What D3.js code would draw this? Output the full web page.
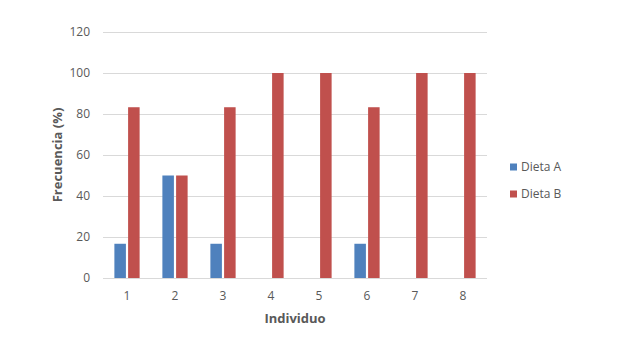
<!DOCTYPE html>
<html>
<head>
<meta charset="utf-8">
<script src="https://cdn.jsdelivr.net/npm/d3@7"></script>
<style>
  body { margin: 0; background: #fff; }
  text { font-family: "Open Sans", "Liberation Sans", sans-serif; }
</style>
</head>
<body>
<div id="chart"></div>
<script>
var individuos = ["1", "2", "3", "4", "5", "6", "7", "8"];
var series = ["Dieta A", "Dieta B"];
var dietaA = [16.7, 50, 16.7, 0, 0, 16.7, 0, 0];
var dietaB = [83.3, 50, 83.3, 100, 100, 83.3, 100, 100];
var yTicks = [0, 20, 40, 60, 80, 100, 120];
var colors = ["#4F81BD", "#C0504D"];

var width = 639, height = 339;
var margin = {left: 103, right: 152, top: 32, bottom: 61};

var svg = d3.select("#chart").append("svg")
    .attr("width", width)
    .attr("height", height);

var x = d3.scaleBand()
    .domain(individuos)
    .range([margin.left, width - margin.right]);

var xs = d3.scaleBand()
    .domain(series)
    .range([0, x.bandwidth()])
    .paddingInner(0.16)
    .paddingOuter(0.83);

var y = d3.scaleLinear()
    .domain([0, 120])
    .range([height - margin.bottom, margin.top]);

// gridlines
svg.append("g")
  .selectAll("line")
  .data(yTicks)
  .enter().append("line")
    .attr("x1", margin.left)
    .attr("x2", width - margin.right)
    .attr("y1", function(d) { return Math.round(y(d)) + 0.5; })
    .attr("y2", function(d) { return Math.round(y(d)) + 0.5; })
    .attr("stroke", "#D9D9D9")
    .attr("stroke-width", 1);

// y tick labels
svg.append("g")
  .selectAll("text")
  .data(yTicks)
  .enter().append("text")
    .attr("x", 90)
    .attr("y", function(d) { return y(d); })
    .attr("dy", "0.35em")
    .attr("text-anchor", "end")
    .attr("font-size", "12px")
    .attr("fill", "#595959")
    .text(function(d) { return d; });

// bars
var rows = individuos.map(function(k, i) {
  return {key: k, values: [dietaA[i], dietaB[i]]};
});

var groups = svg.append("g")
  .selectAll("g")
  .data(rows)
  .enter().append("g")
    .attr("transform", function(d) { return "translate(" + x(d.key) + ",0)"; });

groups.selectAll("rect")
  .data(function(d) { return d.values.map(function(v, j) { return {s: series[j], v: v, c: colors[j]}; }); })
  .enter().append("rect")
    .attr("x", function(d) { return xs(d.s); })
    .attr("width", xs.bandwidth())
    .attr("y", function(d) { return y(d.v); })
    .attr("height", function(d) { return y(0) - y(d.v); })
    .attr("fill", function(d) { return d.c; });

// x tick labels
svg.append("g")
  .selectAll("text")
  .data(individuos)
  .enter().append("text")
    .attr("x", function(d) { return x(d) + x.bandwidth() / 2; })
    .attr("y", 296)
    .attr("dy", "0.35em")
    .attr("text-anchor", "middle")
    .attr("font-size", "12px")
    .attr("fill", "#595959")
    .text(function(d) { return d; });

// axis titles
svg.append("text")
    .attr("x", (margin.left + width - margin.right) / 2)
    .attr("y", 318)
    .attr("dy", "0.35em")
    .attr("text-anchor", "middle")
    .attr("font-size", "13px")
    .attr("font-weight", "bold")
    .attr("fill", "#595959")
    .text("Individuo");

svg.append("text")
    .attr("transform", "translate(57," + (y(60)) + ")rotate(-90)")
    .attr("dy", "0.35em")
    .attr("text-anchor", "middle")
    .attr("font-size", "13px")
    .attr("font-weight", "bold")
    .attr("fill", "#595959")
    .text("Frecuencia (%)");

// legend
var legend = svg.append("g")
  .selectAll("g")
  .data(series)
  .enter().append("g")
    .attr("transform", function(d, i) { return "translate(510," + (167 + i * 27) + ")"; });

legend.append("rect")
    .attr("x", 0)
    .attr("y", -3.5)
    .attr("width", 7)
    .attr("height", 7)
    .attr("fill", function(d, i) { return colors[i]; });

legend.append("text")
    .attr("x", 11)
    .attr("dy", "0.35em")
    .attr("font-size", "12px")
    .attr("fill", "#595959")
    .text(function(d) { return d; });
</script>
</body>
</html>
